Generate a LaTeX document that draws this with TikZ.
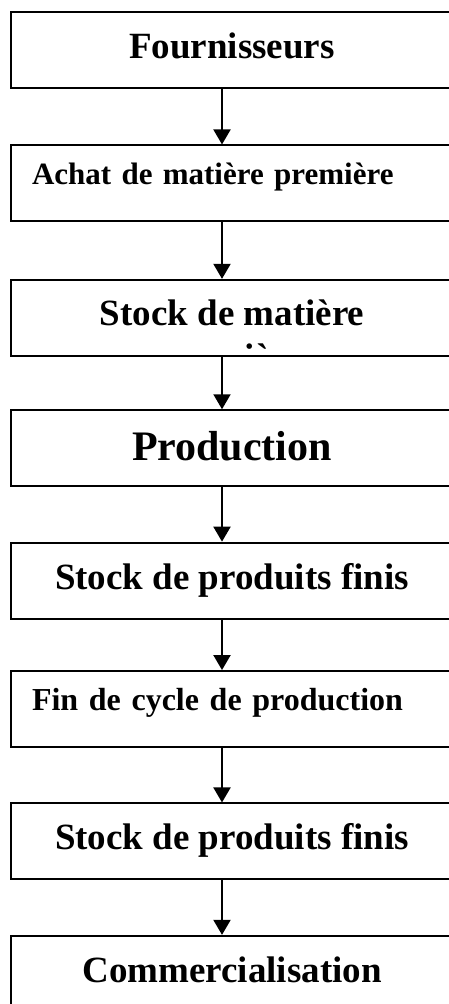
\documentclass[tikz,border=0pt]{standalone}
\usepackage{fontspec}
\setmainfont{Liberation Serif}
\usetikzlibrary{arrows.meta,positioning}

\begin{document}
\begin{tikzpicture}[x=1pt,y=-1pt,node distance=55pt,>={Triangle[width=17pt,length=15pt]}]
\tikzstyle{block}=[rectangle,draw,line width=1.9pt,minimum width=442pt,minimum height=76pt,inner sep=0pt,text height=17pt,text depth=0pt,font=\bfseries\fontsize{37}{43}\selectfont]
\tikzstyle{leftblock}=[block,text width=400pt,inner xsep=21pt,align=left,text height=2pt,font=\bfseries\fontsize{31}{36}\selectfont]
\tikzstyle{flow}=[->,line width=2pt]
\clip (0,0) rectangle (449,1004);
\node[block] (fourn) at (232,50) {Fournisseurs};
\node[leftblock,below=55.5pt of fourn] (achat) {Achat de matière première};
\node[block,below=56.5pt of achat,text height=15pt] (stockmp) {Stock de matière};
% second line of the text, cut off by the box
\begin{scope}
\clip (stockmp.north west) rectangle ([yshift=8pt]stockmp.south east);
\node[anchor=base,inner sep=0pt,font=\bfseries\fontsize{37}{43}\selectfont] (stockmp2) at ([yshift=-51.5pt]stockmp.center) {première};
\end{scope}
\node[block,below=52.5pt of stockmp,text height=25pt,font=\bfseries\fontsize{42}{48}\selectfont] (prod) {Production};
\node[block,below=54.5pt of prod,text height=18pt] (stockpf) {Stock de produits finis};
\node[leftblock,below=50.5pt of stockpf,font=\bfseries\fontsize{32}{37}\selectfont] (fin) {Fin de cycle de production};
\node[block,below=54.5pt of fin] (stockpf2) {Stock de produits finis};
\node[block,below=54.5pt of stockpf2,minimum height=92pt,text height=2pt] (comm) {Commercialisation};
\draw[flow] ([xshift=-10pt]fourn.south) -- ([xshift=-10pt]achat.north);
\draw[flow] ([xshift=-10pt]achat.south) -- ([xshift=-10pt]stockmp.north);
\draw[flow] ([xshift=-10pt]stockmp.south) -- ([xshift=-10pt]prod.north);
\draw[flow] ([xshift=-10pt]prod.south) -- ([xshift=-10pt]stockpf.north);
\draw[flow] ([xshift=-10pt]stockpf.south) -- ([xshift=-10pt]fin.north);
\draw[flow] ([xshift=-10pt]fin.south) -- ([xshift=-10pt]stockpf2.north);
\draw[flow] ([xshift=-10pt]stockpf2.south) -- ([xshift=-10pt]comm.north);
\end{tikzpicture}
\end{document}
